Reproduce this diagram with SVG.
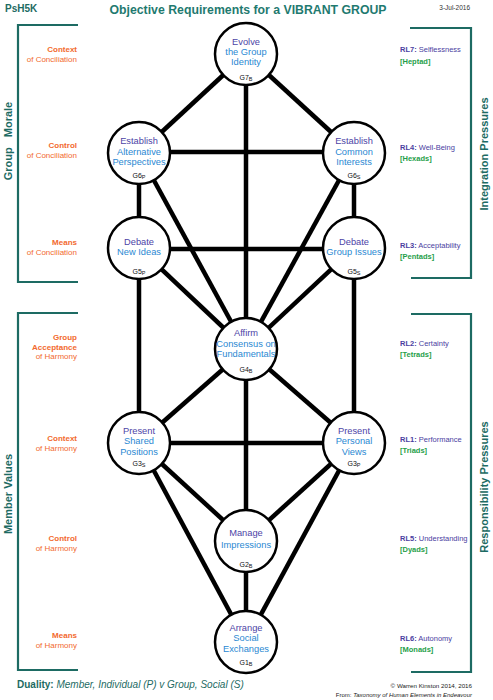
<svg xmlns="http://www.w3.org/2000/svg" width="493" height="700" viewBox="0 0 493 700">
<style>
  text { font-family: "Liberation Sans", Arial, sans-serif; }
  .edge { stroke: #000; stroke-width: 4.5; fill: none; }
  .circ { fill: #fff; stroke: #000; stroke-width: 2.5; }
  .nt { font-size: 9.3px; text-anchor: middle; }
  .p1 { fill: #4d44a6; }
  .p2 { fill: #2a88d2; }
  .id { font-size: 7px; text-anchor: middle; fill: #111; }
  .sub { font-size: 5.5px; }
  .br { stroke: #1d6b63; stroke-width: 2.2; fill: none; }
  .side { font-size: 11px; font-weight: bold; fill: #1d6b63; text-anchor: middle; }
  .ll { font-size: 8px; fill: #f26a2e; text-anchor: end; }
  .rl { font-size: 7.5px; fill: #4a3ea1; }
  .rg { font-size: 7.5px; fill: #1fa04a; font-weight: bold; }
  .b { font-weight: bold; }
</style>

<!-- header -->
<text x="5" y="12" font-size="10" font-weight="bold" fill="#1d6b63">PsH5K</text>
<text x="248" y="14" font-size="13" font-weight="bold" fill="#1f7a70" text-anchor="middle" textLength="277" lengthAdjust="spacingAndGlyphs">Objective Requirements for a VIBRANT GROUP</text>
<text x="470" y="10" font-size="6.5" fill="#333" text-anchor="end">3-Jul-2016</text>

<!-- brackets -->
<g id="brackets">
  <polyline class="br" points="78,25 18,25 18,282 78,282"/>
  <polyline class="br" points="78,313 18,313 18,670 78,670"/>
  <polyline class="br" points="410,28 471,28 471,278 411,278"/>
  <polyline class="br" points="411,314 471,314 471,672 411,672"/>
  <text class="side" transform="translate(11.5,141) rotate(-90)">Group<tspan dx="10">Morale</tspan></text>
  <text class="side" transform="translate(11.5,494) rotate(-90)">Member Values</text>
  <text class="side" transform="translate(488,154) rotate(-90)">Integration Pressures</text>
  <text class="side" transform="translate(488,487) rotate(-90)">Responsibility Pressures</text>
</g>

<!-- left labels -->
<g id="left-labels">
  <text class="ll" x="77" y="52"><tspan class="b">Context</tspan><tspan x="77" dy="9.5">of Conciliation</tspan></text>
  <text class="ll" x="77" y="148"><tspan class="b">Control</tspan><tspan x="77" dy="9.5">of Conciliation</tspan></text>
  <text class="ll" x="77" y="245"><tspan class="b">Means</tspan><tspan x="77" dy="9.5">of Conciliation</tspan></text>
  <text class="ll" x="77" y="340"><tspan class="b">Group</tspan><tspan x="77" dy="9.5" class="b">Acceptance</tspan><tspan x="77" dy="9.5">of Harmony</tspan></text>
  <text class="ll" x="77" y="441"><tspan class="b">Context</tspan><tspan x="77" dy="9.5">of Harmony</tspan></text>
  <text class="ll" x="77" y="541"><tspan class="b">Control</tspan><tspan x="77" dy="9.5">of Harmony</tspan></text>
  <text class="ll" x="77" y="638"><tspan class="b">Means</tspan><tspan x="77" dy="9.5">of Harmony</tspan></text>
</g>

<!-- right labels -->
<g id="right-labels">
  <text class="rl" x="400" y="52"><tspan class="b">RL7:</tspan> Selflessness</text>
  <text class="rg" x="400" y="64">[Heptad]</text>
  <text class="rl" x="400" y="150"><tspan class="b">RL4:</tspan> Well-Being</text>
  <text class="rg" x="400" y="161">[Hexads]</text>
  <text class="rl" x="400" y="248"><tspan class="b">RL3:</tspan> Acceptability</text>
  <text class="rg" x="400" y="259">[Pentads]</text>
  <text class="rl" x="400" y="346"><tspan class="b">RL2:</tspan> Certainty</text>
  <text class="rg" x="400" y="357">[Tetrads]</text>
  <text class="rl" x="400" y="442"><tspan class="b">RL1:</tspan> Performance</text>
  <text class="rg" x="400" y="453">[Triads]</text>
  <text class="rl" x="400" y="541"><tspan class="b">RL5:</tspan> Understanding</text>
  <text class="rg" x="400" y="552">[Dyads]</text>
  <text class="rl" x="400" y="641"><tspan class="b">RL6:</tspan> Autonomy</text>
  <text class="rg" x="400" y="652">[Monads]</text>
</g>

<!-- connectors -->
<g id="connectors">
  <line class="edge" x1="246" y1="54" x2="139" y2="153"/>
  <line class="edge" x1="246" y1="54" x2="354" y2="153"/>
  <line class="edge" x1="246" y1="54" x2="246" y2="349"/>
  <line class="edge" x1="139" y1="152" x2="354" y2="152"/>
  <line class="edge" x1="139" y1="153" x2="139" y2="248"/>
  <line class="edge" x1="354" y1="153" x2="354" y2="248"/>
  <line class="edge" x1="139" y1="153" x2="246" y2="349"/>
  <line class="edge" x1="354" y1="153" x2="246" y2="349"/>
  <line class="edge" x1="139" y1="249" x2="354" y2="249"/>
  <line class="edge" x1="139" y1="248" x2="246" y2="349"/>
  <line class="edge" x1="354" y1="248" x2="246" y2="349"/>
  <line class="edge" x1="139" y1="248" x2="139" y2="443"/>
  <line class="edge" x1="354" y1="248" x2="354" y2="443"/>
  <line class="edge" x1="246" y1="349" x2="139" y2="443"/>
  <line class="edge" x1="246" y1="349" x2="354" y2="443"/>
  <line class="edge" x1="246" y1="349" x2="246" y2="541"/>
  <line class="edge" x1="139" y1="443" x2="354" y2="443"/>
  <line class="edge" x1="139" y1="443" x2="246" y2="541"/>
  <line class="edge" x1="354" y1="443" x2="246" y2="541"/>
  <line class="edge" x1="139" y1="443" x2="246" y2="642" stroke-width="5"/>
  <line class="edge" x1="354" y1="443" x2="246" y2="642" stroke-width="5"/>
  <line class="edge" x1="246" y1="541" x2="246" y2="642"/>
</g>

<!-- nodes -->
<g id="G7">
  <circle class="circ" cx="246" cy="54" r="31"/>
  <text class="nt p1" x="246" y="45">Evolve</text>
  <text class="nt p2" x="246" y="55">the Group</text>
  <text class="nt p2" x="246" y="65">Identity</text>
  <text class="id" x="246" y="80">G7<tspan class="sub" dy="1">B</tspan></text>
</g>
<g id="G6P">
  <circle class="circ" cx="139" cy="153" r="31"/>
  <text class="nt p1" x="139" y="144">Establish</text>
  <text class="nt p2" x="139" y="155" font-size="8.8">Alternative</text>
  <text class="nt p2" x="139" y="165" font-size="8.8">Perspectives</text>
  <text class="id" x="139" y="178">G6<tspan class="sub" dy="1">P</tspan></text>
</g>
<g id="G6S">
  <circle class="circ" cx="354" cy="153" r="31"/>
  <text class="nt p1" x="354" y="144">Establish</text>
  <text class="nt p2" x="354" y="155">Common</text>
  <text class="nt p2" x="354" y="165">Interests</text>
  <text class="id" x="354" y="178">G6<tspan class="sub" dy="1">S</tspan></text>
</g>
<g id="G5P">
  <circle class="circ" cx="139" cy="248" r="31"/>
  <text class="nt p1" x="139" y="245">Debate</text>
  <text class="nt p2" x="139" y="255">New Ideas</text>
  <text class="id" x="139" y="274">G5<tspan class="sub" dy="1">P</tspan></text>
</g>
<g id="G5S">
  <circle class="circ" cx="354" cy="248" r="31"/>
  <text class="nt p1" x="354" y="245">Debate</text>
  <text class="nt p2" x="354" y="255">Group Issues</text>
  <text class="id" x="354" y="274">G5<tspan class="sub" dy="1">S</tspan></text>
</g>
<g id="G4">
  <circle class="circ" cx="246" cy="349" r="31"/>
  <text class="nt p1" x="246" y="336">Affirm</text>
  <text class="nt p2" x="246" y="347" font-size="9">Consensus on</text>
  <text class="nt p2" x="246" y="357" font-size="9">Fundamentals</text>
  <text class="id" x="246" y="372">G4<tspan class="sub" dy="1">B</tspan></text>
</g>
<g id="G3S">
  <circle class="circ" cx="139" cy="443" r="31"/>
  <text class="nt p1" x="139" y="434">Present</text>
  <text class="nt p2" x="139" y="444">Shared</text>
  <text class="nt p2" x="139" y="455">Positions</text>
  <text class="id" x="139" y="466">G3<tspan class="sub" dy="1">S</tspan></text>
</g>
<g id="G3P">
  <circle class="circ" cx="354" cy="443" r="31"/>
  <text class="nt p1" x="354" y="434">Present</text>
  <text class="nt p2" x="354" y="444">Personal</text>
  <text class="nt p2" x="354" y="455">Views</text>
  <text class="id" x="354" y="466">G3<tspan class="sub" dy="1">P</tspan></text>
</g>
<g id="G2">
  <circle class="circ" cx="246" cy="541" r="31"/>
  <text class="nt p1" x="246" y="536">Manage</text>
  <text class="nt p2" x="246" y="548">Impressions</text>
  <text class="id" x="246" y="567">G2<tspan class="sub" dy="1">B</tspan></text>
</g>
<g id="G1">
  <circle class="circ" cx="246" cy="642" r="31"/>
  <text class="nt p1" x="246" y="631">Arrange</text>
  <text class="nt p2" x="246" y="641">Social</text>
  <text class="nt p2" x="246" y="652">Exchanges</text>
  <text class="id" x="246" y="665">G1<tspan class="sub" dy="1">B</tspan></text>
</g>

<!-- footer -->
<text x="17" y="688" font-size="10" fill="#1d6b63"><tspan font-weight="bold">Duality:</tspan><tspan font-style="italic"> Member, Individual (P)  v  Group, Social (S)</tspan></text>
<text x="472" y="688" font-size="6.2" fill="#222" text-anchor="end">© Warren Kinston 2014, 2016</text>
<text x="472" y="697" font-size="6" fill="#222" text-anchor="end">From:  <tspan font-style="italic">Taxonomy of Human Elements in Endeavour</tspan></text>
</svg>
